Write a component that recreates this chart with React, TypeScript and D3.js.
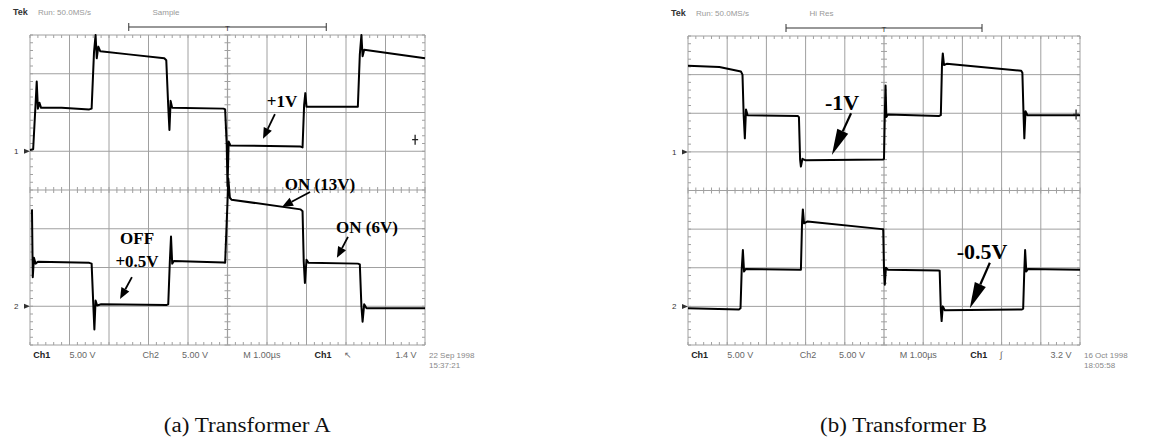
import React from "react";
import * as d3 from "d3";

// scope traces, in screen divisions (x: 0..10, y: -4..4)
const traceA1: [number, number][] = [
  [0, 1.03], [0.08, 1.05], [0.14, 2.2], [0.17, 2.8], [0.2, 2.1], [0.24, 2.25], [0.28, 2.12],
  [0.8, 2.12], [1.5, 2.08], [1.56, 2.1], [1.62, 3.55], [1.66, 4.0], [1.69, 3.4], [1.73, 3.7],
  [1.78, 3.58], [2.5, 3.5], [3.4, 3.4], [3.45, 3.35], [3.5, 2.15], [3.53, 1.55], [3.56, 2.3],
  [3.6, 2.12], [4.9, 2.1], [4.94, 2.08], [4.98, 1.17], [5.0, 0.1], [5.03, 1.25], [5.07, 1.15],
  [6.85, 1.12], [6.9, 1.1], [6.94, 2.2], [6.97, 2.5], [7.0, 2.15], [8.3, 2.15], [8.35, 3.5],
  [8.39, 4.0], [8.42, 3.45], [8.46, 3.62], [10, 3.4],
];
const traceA2: [number, number][] = [
  [0.05, -0.5], [0.07, -2.25], [0.1, -1.75], [0.14, -1.9], [0.2, -1.85], [1.5, -1.88],
  [1.56, -1.9], [1.6, -2.9], [1.63, -3.6], [1.66, -2.85], [1.7, -2.98], [1.8, -2.95],
  [3.45, -2.97], [3.5, -2.95], [3.54, -1.85], [3.57, -1.2], [3.6, -1.9], [3.64, -1.83],
  [4.9, -1.87], [4.94, -1.88], [5.0, -0.3], [5.02, 0.3], [5.06, -0.2], [5.1, -0.25],
  [6.85, -0.5], [6.9, -0.55], [6.93, -1.85], [6.96, -2.4], [7.0, -1.8], [7.05, -1.88],
  [8.3, -1.9], [8.35, -1.92], [8.39, -3.0], [8.42, -3.4], [8.46, -2.95], [8.52, -3.05], [10, -3.05],
];
const traceB1: [number, number][] = [
  [0, 3.23], [0.8, 3.2], [1.35, 3.08], [1.39, 3.0], [1.42, 1.95], [1.45, 1.35], [1.48, 2.1],
  [1.52, 1.95], [2.8, 1.93], [2.83, 1.9], [2.86, 0.8], [2.88, 0.62], [2.92, 0.82], [3.0, 0.78],
  [4.97, 0.8], [5.0, 0.82], [5.02, 1.95], [5.04, 2.72], [5.06, 1.9], [5.1, 1.97], [6.4, 1.93],
  [6.45, 1.95], [6.48, 3.28], [6.5, 3.55], [6.53, 3.25], [6.6, 3.28], [8.5, 3.1], [8.53, 3.05],
  [8.56, 1.95], [8.58, 1.35], [8.61, 2.05], [8.66, 1.95], [10, 1.95],
];
const traceB2: [number, number][] = [
  [0, -3.05], [1.3, -3.08], [1.34, -3.05], [1.37, -2.05], [1.4, -1.54], [1.43, -2.1],
  [1.47, -2.03], [2.85, -2.05], [2.88, -2.05], [2.91, -0.82], [2.93, -0.49], [2.96, -0.85],
  [3.05, -0.8], [4.95, -1.0], [4.98, -1.0], [5.0, -2.05], [5.02, -2.44], [5.05, -2.0],
  [5.1, -2.05], [6.38, -2.07], [6.42, -2.08], [6.45, -3.1], [6.47, -3.38], [6.5, -3.0],
  [6.55, -3.1], [8.52, -3.08], [8.55, -3.06], [8.58, -2.05], [8.6, -1.54], [8.63, -2.1],
  [8.67, -2.03], [10, -2.05],
];

// annotation labels: [text, x, y(baseline)] and arrows [x1, y1, x2, y2]
const labelsA: [string, number, number][] = [
  ["+1V", 6.38, 2.14], ["ON (13V)", 7.34, 0.0], ["ON (6V)", 8.53, -1.11],
  ["OFF", 2.71, -1.39], ["+0.5V", 2.71, -1.99],
];
const arrowsA: [number, number, number, number][] = [
  [6.2, 1.96, 5.9, 1.32], [7.09, -0.05, 6.38, -0.44], [8.05, -1.21, 7.77, -1.75], [2.58, -2.25, 2.28, -2.81],
];
const labelsB: [string, number, number][] = [["-1V", 3.93, 2.08], ["-0.5V", 7.5, -1.77]];
const arrowsB: [number, number, number, number][] = [[4.16, 2.0, 3.67, 0.92], [7.7, -1.87, 7.19, -3.05]];

// trigger level marker on the right edge: [x, y]
const trigA: [number, number] = [9.75, 1.3];
const trigB: [number, number] = [9.9, 1.97];

const headerA = ["Run: 50.0MS/s", "Sample"];
const headerB = ["Run: 50.0MS/s", "Hi Res"];
const readoutA = ["Ch1", "5.00 V", "Ch2", "5.00 V", "M 1.00\u00b5s", "Ch1", "\u2196", "1.4 V"];
const readoutB = ["Ch1", "5.00 V", "Ch2", "5.00 V", "M 1.00\u00b5s", "Ch1", "\u222b", "3.2 V"];
const dateA = ["22 Sep 1998", "15:37:21"];
const dateB = ["16 Oct 1998", "18:05:58"];

const SERIF = '"Liberation Serif", "DejaVu Serif", serif';
const SANS = '"Liberation Sans", Arial, sans-serif';
const readoutPos = [0.08, 1.0, 2.85, 3.85, 5.4, 7.2, 7.95, 9.25];

function Arrow({ x1, y1, x2, y2, wedge }: any) {
  const a = Math.atan2(y2 - y1, x2 - x1);
  const len = wedge ? 26 : 11;
  const w = wedge ? 6 : 4.5;
  const bx = x2 - len * Math.cos(a), by = y2 - len * Math.sin(a);
  const px = -Math.sin(a) * w, py = Math.cos(a) * w;
  return (
    <g>
      <line x1={x1} y1={y1} x2={bx} y2={by} stroke="#000" strokeWidth={wedge ? 2.2 : 1.8} />
      <polygon points={`${x2},${y2} ${bx + px},${by + py} ${bx - px},${by - py}`} fill="#000" />
    </g>
  );
}

function Scope({ left, right, top, bottom, t1, t2, labels, arrows, header, readout, date, caption, trig, big }: any) {
  const x = d3.scaleLinear().domain([0, 10]).range([left, right]);
  const y = d3.scaleLinear().domain([-4, 4]).range([bottom, top]);
  const line = d3.line<[number, number]>().x((d) => x(d[0])).y((d) => y(d[1]));
  const xt = d3.range(0, 10.01, 0.2);
  const yt = d3.range(-4, 4.01, 0.2);
  const grid = "#a0a0a0";
  return (
    <g>
      {/* header */}
      <text x={left - 17} y={top - 20} fontFamily={SANS} fontSize={9} fontWeight="bold" fill="#333">Tek</text>
      <text x={left + 8} y={top - 20} fontFamily={SANS} fontSize={8} fill="#999">{header[0]}</text>
      <text x={x(3.1)} y={top - 20} fontFamily={SANS} fontSize={8} fill="#999">{header[1]}</text>
      {/* trigger bar */}
      <line x1={x(2.5)} x2={x(7.5)} y1={top - 8} y2={top - 8} stroke="#333" strokeWidth={1.2} />
      <line x1={x(2.5)} x2={x(2.5)} y1={top - 12} y2={top - 4} stroke="#333" />
      <line x1={x(7.5)} x2={x(7.5)} y1={top - 12} y2={top - 4} stroke="#333" />
      <text x={x(5)} y={top - 4} textAnchor="middle" fontFamily={SANS} fontSize={8} fill="#333">T</text>
      {/* grid */}
      {d3.range(0, 11).map((i) => (
        <line key={"v" + i} x1={x(i)} x2={x(i)} y1={top} y2={bottom} stroke={grid} strokeWidth={i === 5 ? 1.2 : 1} />
      ))}
      {d3.range(-4, 5).map((i) => (
        <line key={"h" + i} x1={left} x2={right} y1={y(i)} y2={y(i)} stroke={grid} strokeWidth={i === 0 ? 1.2 : 1} />
      ))}
      {xt.map((t, i) => (
        <g key={"xt" + i} stroke={grid}>
          <line x1={x(t)} x2={x(t)} y1={y(0) - 3} y2={y(0) + 3} />
          <line x1={x(t)} x2={x(t)} y1={top} y2={top + 3} />
          <line x1={x(t)} x2={x(t)} y1={bottom - 3} y2={bottom} />
        </g>
      ))}
      {yt.map((t, i) => (
        <g key={"yt" + i} stroke={grid}>
          <line x1={x(5) - 3} x2={x(5) + 3} y1={y(t)} y2={y(t)} />
          <line x1={left} x2={left + 3} y1={y(t)} y2={y(t)} />
          <line x1={right - 3} x2={right} y1={y(t)} y2={y(t)} />
        </g>
      ))}
      {/* ground markers */}
      <text x={left - 16} y={y(1) + 3} fontFamily={SANS} fontSize={8} fill="#333">1</text>
      <text x={left - 16} y={y(-3) + 3} fontFamily={SANS} fontSize={8} fill="#333">2</text>
      <polygon points={`${left},${y(1)} ${left - 6},${y(1) - 2.5} ${left - 6},${y(1) + 2.5}`} fill="#333" />
      <polygon points={`${left},${y(-3)} ${left - 6},${y(-3) - 2.5} ${left - 6},${y(-3) + 2.5}`} fill="#333" />
      {/* traces */}
      <path d={line(t1) || ""} fill="none" stroke="#000" strokeWidth={2} strokeLinejoin="round" />
      <path d={line(t2) || ""} fill="none" stroke="#000" strokeWidth={2} strokeLinejoin="round" />
      {/* trigger level marker */}
      <g stroke="#222" strokeWidth={1.3}>
        <line x1={x(trig[0])} x2={x(trig[0])} y1={y(trig[1]) - 5} y2={y(trig[1]) + 5} />
        <line x1={x(trig[0]) - 3} x2={x(trig[0]) + 3} y1={y(trig[1])} y2={y(trig[1])} />
      </g>
      {/* annotations */}
      {labels.map((l: any, i: number) => (
        <text key={"l" + i} x={x(l[1])} y={y(l[2])} textAnchor="middle" fontFamily={SERIF}
          fontWeight="bold" fontSize={big ? 22 : 17} fill="#000">{l[0]}</text>
      ))}
      {arrows.map((a: any, i: number) => (
        <Arrow key={"a" + i} x1={x(a[0])} y1={y(a[1])} x2={x(a[2])} y2={y(a[3])} wedge={big} />
      ))}
      {/* readout */}
      {readout.map((r: string, i: number) => (
        <text key={"r" + i} x={x(readoutPos[i])} y={bottom + 13} fontFamily={SANS} fontSize={9}
          fontWeight={i === 0 || i === 5 ? "bold" : "normal"} fill={i === 0 || i === 5 ? "#222" : "#666"}>{r}</text>
      ))}
      <text x={right + 4} y={bottom + 13} fontFamily={SANS} fontSize={8} fill="#888">{date[0]}</text>
      <text x={right + 4} y={bottom + 23} fontFamily={SANS} fontSize={8} fill="#888">{date[1]}</text>
      {/* caption */}
      <text x={x(5.5)} y={432} textAnchor="middle" fontFamily={SERIF} fontSize={20}
        textLength={167} lengthAdjust="spacingAndGlyphs" fill="#111">{caption}</text>
    </g>
  );
}

export default function App() {
  return (
    <svg width={1163} height={445} style={{ position: "absolute", left: 0, top: 0, background: "#fff" }}>
      <Scope left={30} right={425} top={35} bottom={345} t1={traceA1} t2={traceA2} labels={labelsA}
        arrows={arrowsA} header={headerA} readout={readoutA} date={dateA} trig={trigA}
        caption="(a) Transformer A" />
      <Scope left={688} right={1080} top={36} bottom={345} t1={traceB1} t2={traceB2} labels={labelsB}
        arrows={arrowsB} header={headerB} readout={readoutB} date={dateB} trig={trigB}
        caption="(b) Transformer B" big />
    </svg>
  );
}
